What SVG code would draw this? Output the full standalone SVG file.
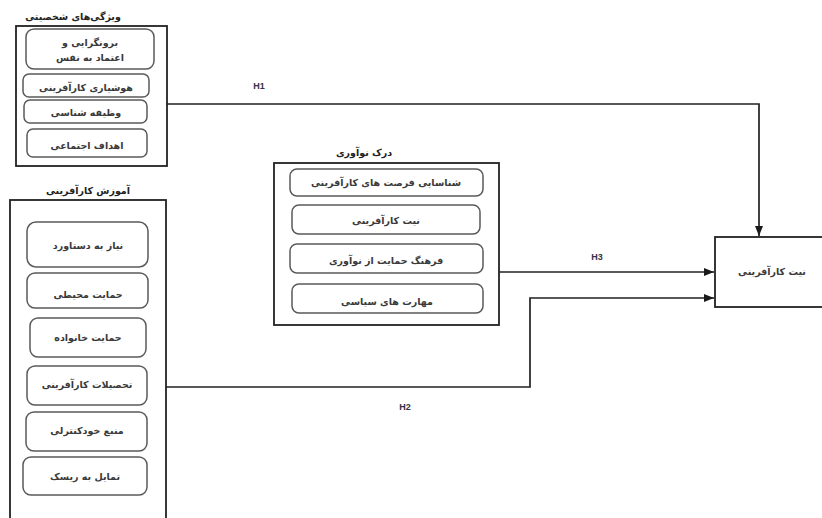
<svg xmlns="http://www.w3.org/2000/svg" width="822" height="518" viewBox="0 0 822 518">
  <defs>
    <marker id="arrow" viewBox="0 0 10 10" refX="10" refY="5" markerWidth="10" markerHeight="10" markerUnits="userSpaceOnUse" orient="auto">
      <path d="M0,1 L10,5 L0,9 Z" fill="#1a1a1a"/>
    </marker>
  </defs>
  <style>
    .frame { fill: #ffffff; stroke: #222222; stroke-width: 1.8; }
    .item { fill: #ffffff; stroke: #5a5a5a; stroke-width: 1.5; }
    .t { font-family: "DejaVu Sans", sans-serif; font-size: 9.5px; font-weight: bold; fill: #3a3a3a; text-anchor: middle; direction: rtl; }
    .title { font-family: "DejaVu Sans", sans-serif; font-size: 9.5px; font-weight: bold; fill: #222222; text-anchor: middle; direction: rtl; }
    .h { font-family: "Liberation Sans", Arial, sans-serif; font-size: 9px; font-weight: bold; fill: #333344; text-anchor: middle; }
    .link { fill: none; stroke: #222222; stroke-width: 1.7; }
  </style>
  <rect width="822" height="518" fill="#ffffff"/>

  <!-- personality traits -->
  <g id="personality">
    <text class="title" x="73" y="20">ویژگی‌های شخصیتی</text>
    <rect class="frame" x="16" y="26" width="151" height="140"/>
    <rect class="item" x="26" y="29" width="128" height="40" rx="8"/>
    <text class="t" x="90" y="46">برونگرایی و</text>
    <text class="t" x="90" y="61">اعتماد به نفس</text>
    <rect class="item" x="23" y="74" width="126" height="23" rx="6"/>
    <text class="t" x="86" y="91">هوشیاری کارآفرینی</text>
    <rect class="item" x="24" y="100" width="123" height="23" rx="6"/>
    <text class="t" x="86" y="116">وظیفه شناسی</text>
    <rect class="item" x="27" y="129" width="120" height="28" rx="6"/>
    <text class="t" x="87" y="149">اهداف اجتماعی</text>
  </g>

  <!-- entrepreneurship education -->
  <g id="education">
    <text class="title" x="88" y="194">آموزش کارآفرینی</text>
    <rect class="frame" x="10" y="200" width="156" height="330"/>
    <rect class="item" x="27" y="222" width="121" height="45" rx="9"/>
    <text class="t" x="88" y="249">نیاز به دستاورد</text>
    <rect class="item" x="27" y="273" width="121" height="35" rx="8"/>
    <text class="t" x="88" y="298">حمایت محیطی</text>
    <rect class="item" x="30" y="318" width="116" height="39" rx="8"/>
    <text class="t" x="88" y="341">حمایت خانواده</text>
    <rect class="item" x="27" y="366" width="120" height="39" rx="8"/>
    <text class="t" x="87" y="388">تحصیلات کارآفرینی</text>
    <rect class="item" x="26" y="412" width="121" height="39" rx="8"/>
    <text class="t" x="87" y="434">منبع خودکنترلی</text>
    <rect class="item" x="23" y="457" width="124" height="38" rx="8"/>
    <text class="t" x="85" y="480">تمایل به ریسک</text>
  </g>

  <!-- innovation perception -->
  <g id="innovation">
    <text class="title" x="364" y="156">درک نوآوری</text>
    <rect class="frame" x="274" y="163" width="225" height="162"/>
    <rect class="item" x="290" y="169" width="193" height="27" rx="7"/>
    <text class="t" x="386" y="186">شناسایی فرصت های کارآفرینی</text>
    <rect class="item" x="292" y="205" width="188" height="29" rx="7"/>
    <text class="t" x="386" y="224">نیت کارآفرینی</text>
    <rect class="item" x="290" y="244" width="193" height="29" rx="7"/>
    <text class="t" x="386" y="264">فرهنگ حمایت از نوآوری</text>
    <rect class="item" x="292" y="284" width="191" height="29" rx="7"/>
    <text class="t" x="387" y="305">مهارت های سیاسی</text>
  </g>

  <!-- entrepreneurial intention -->
  <g id="intention">
    <rect class="frame" x="715" y="237" width="120" height="70"/>
    <text class="t" x="772" y="275">نیت کارآفرینی</text>
  </g>

  <!-- hypotheses links -->
  <g id="links">
    <path class="link" d="M167,104 H759 V236" marker-end="url(#arrow)"/>
    <path class="link" d="M499,272 H714" marker-end="url(#arrow)"/>
    <path class="link" d="M166,387 H530 V298 H714" marker-end="url(#arrow)"/>
    <text class="h" x="259" y="89">H1</text>
    <text class="h" x="597" y="260">H3</text>
    <text class="h" x="405" y="410">H2</text>
  </g>
</svg>
